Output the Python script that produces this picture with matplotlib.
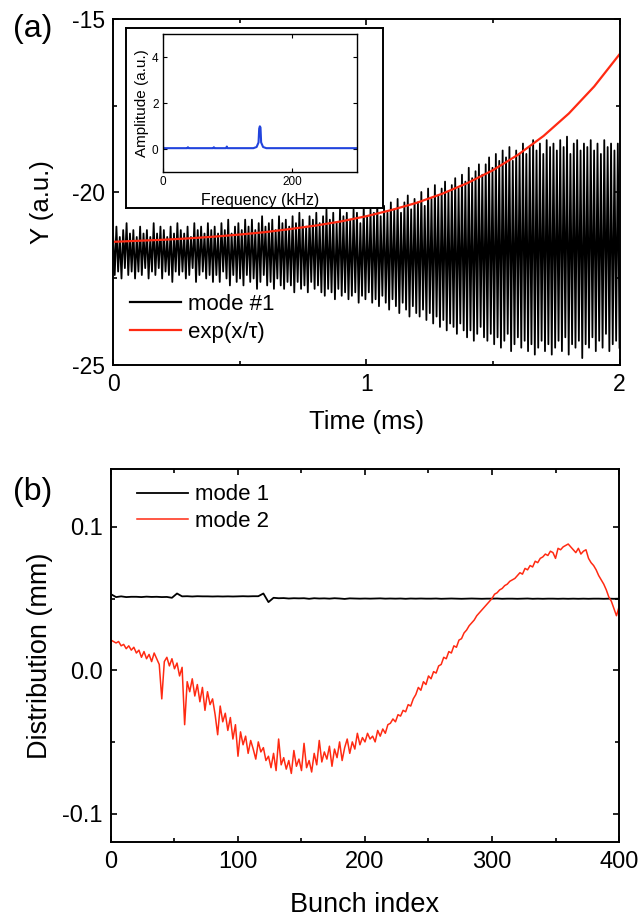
import numpy as np
import matplotlib
matplotlib.use("Agg")
import matplotlib.pyplot as plt
from matplotlib.ticker import MultipleLocator, FormatStrFormatter

plt.rcParams['font.family'] = ['Liberation Sans', 'DejaVu Sans']
plt.rcParams['axes.unicode_minus'] = False

# ---------------- data: panel (a) ----------------
# upper and lower turning points of the mode #1 oscillation (a.u.)
mode1_upper = [
    -21.2, -21.0, -21.3, -21.1, -20.9, -21.2, -21.1, -21.3, -21.0, -21.2,
    -21.1, -21.3, -20.9, -21.2, -21.0, -21.1, -21.3, -21.0, -21.2, -20.9,
    -21.1, -21.2, -21.0, -21.3, -20.9, -21.1, -21.0, -21.2, -20.9, -21.1,
    -21.0, -21.2, -20.9, -21.1, -20.8, -21.2, -21.0, -20.9, -21.1, -20.8,
    -21.0, -20.8, -21.1, -20.9, -20.7, -21.0, -20.9, -20.8, -21.1, -20.7,
    -20.9, -20.8, -21.0, -20.7, -20.9, -20.6, -20.8, -21.0, -20.7, -20.8,
    -20.6, -20.9, -20.7, -20.5, -20.8, -20.6, -20.9, -20.5, -20.7, -20.6,
    -20.8, -20.5, -20.6, -20.9, -20.4, -20.7, -20.5, -20.6, -20.3, -20.7,
    -20.4, -20.6, -20.3, -20.5, -20.2, -20.6, -20.3, -20.1, -20.5, -20.2,
    -20.3, -20.0, -20.4, -19.9, -20.2, -19.8, -20.1, -19.9, -19.7, -20.0,
    -19.8, -19.6, -19.9, -19.5, -19.7, -19.3, -19.6, -19.4, -19.2, -19.5,
    -19.2, -19.0, -19.3, -18.9, -19.1, -18.8, -19.0, -18.7, -19.1, -18.8,
    -18.9, -18.6, -18.9, -18.7, -18.5, -18.8, -18.6, -18.9, -18.5, -18.7,
    -18.6, -18.8, -18.5, -18.7, -18.4, -18.9, -18.6, -18.5, -18.8, -18.6,
    -18.7, -18.5, -18.8, -18.6, -18.9, -18.5, -18.7, -18.6, -18.8, -18.6,
]
mode1_lower = [
    -22.4, -22.3, -22.5, -22.2, -22.4, -22.3, -22.5, -22.3, -22.4, -22.2,
    -22.5, -22.3, -22.4, -22.2, -22.5, -22.3, -22.4, -22.6, -22.3, -22.4,
    -22.3, -22.5, -22.4, -22.2, -22.6, -22.4, -22.3, -22.5, -22.4, -22.6,
    -22.4, -22.6, -22.3, -22.5, -22.7, -22.4, -22.6, -22.5, -22.7, -22.4,
    -22.6, -22.5, -22.8, -22.6, -22.4, -22.7, -22.6, -22.8, -22.5, -22.7,
    -22.8, -22.6, -22.7, -22.9, -22.6, -22.8, -22.7, -22.9, -22.6, -22.8,
    -22.7, -22.9, -23.0, -22.8, -22.9, -23.1, -22.8, -23.0, -22.9, -23.1,
    -23.0, -22.9, -23.2, -23.0, -23.1, -22.9, -23.2, -23.1, -23.3, -23.0,
    -23.2, -23.4, -23.1, -23.3, -23.5, -23.2, -23.4, -23.6, -23.3, -23.5,
    -23.6, -23.4, -23.7, -23.5, -23.8, -23.6, -23.9, -23.7, -24.0, -23.8,
    -23.9, -24.1, -23.8, -24.0, -24.2, -24.0, -24.3, -24.1, -23.9, -24.2,
    -24.3, -24.1, -24.4, -24.2, -24.5, -24.3, -24.1, -24.6, -24.4, -24.2,
    -24.5, -24.3, -24.6, -24.4, -24.7, -24.5, -24.3, -24.6, -24.4, -24.7,
    -24.5, -24.3, -24.6, -24.2, -24.7, -24.4, -24.5, -24.3, -24.8, -24.4,
    -24.5, -24.2, -24.6, -24.3, -24.5, -24.1, -24.6, -24.4, -24.3, -24.5,
]
fit_time = [0.0, 0.1, 0.2, 0.3, 0.4, 0.5, 0.6, 0.7, 0.8, 0.9, 1.0,
            1.1, 1.2, 1.3, 1.4, 1.5, 1.6, 1.7, 1.8, 1.9, 2.0]
fit_values = [-21.44, -21.41, -21.38, -21.34, -21.29, -21.23, -21.16, -21.07,
              -20.97, -20.85, -20.70, -20.52, -20.31, -20.05, -19.74, -19.37,
              -18.92, -18.38, -17.73, -16.95, -16.02]

# inset spectrum
spec_freq = [0, 0.5, 2, 38, 39, 40, 78, 79, 80, 98, 99, 100, 140, 145, 148,
             149, 150, 151, 152, 155, 160, 300]
spec_amp = [5.3, 0.1, 0.05, 0.05, 0.09, 0.05, 0.05, 0.09, 0.05, 0.05, 0.12,
            0.05, 0.05, 0.1, 0.3, 0.9, 1.0, 0.95, 0.3, 0.1, 0.05, 0.05]

# ---------------- data: panel (b) ----------------
mode2_values = [
    0.021, 0.020, 0.019, 0.020, 0.017, 0.018, 0.015, 0.017, 0.014, 0.016,
    0.012, 0.014, 0.009, 0.013, 0.008, 0.011, 0.006, 0.012, 0.008, 0.004,
    -0.020, 0.006, 0.009, 0.003, 0.008, 0.001, 0.005, -0.004, 0.002, -0.038,
    -0.008, -0.015, -0.006, -0.018, -0.010, -0.022, -0.012, -0.028, -0.015, -0.024,
    -0.020, -0.031, -0.045, -0.025, -0.036, -0.030, -0.042, -0.033, -0.048, -0.038,
    -0.060, -0.043, -0.052, -0.046, -0.058, -0.049, -0.055, -0.062, -0.050, -0.057,
    -0.054, -0.063, -0.060, -0.068, -0.058, -0.070, -0.048, -0.066, -0.061, -0.069,
    -0.063, -0.072, -0.056, -0.067, -0.062, -0.070, -0.051, -0.068, -0.063, -0.071,
    -0.058, -0.066, -0.049, -0.064, -0.057, -0.062, -0.053, -0.067, -0.055, -0.061,
    -0.050, -0.063, -0.054, -0.048, -0.058, -0.050, -0.055, -0.044, -0.052, -0.047,
    -0.050, -0.044, -0.048, -0.046, -0.050, -0.042, -0.046, -0.041, -0.044, -0.038,
    -0.037, -0.034, -0.036, -0.031, -0.032, -0.028, -0.029, -0.024, -0.025, -0.020,
    -0.017, -0.012, -0.014, -0.008, -0.010, -0.004, -0.006, -0.001, -0.002, 0.003,
    0.004, 0.009, 0.008, 0.013, 0.012, 0.017, 0.016, 0.021, 0.022, 0.026,
    0.028, 0.031, 0.033, 0.035, 0.038, 0.040, 0.042, 0.044, 0.046, 0.048,
    0.050, 0.053, 0.054, 0.056, 0.057, 0.059, 0.060, 0.062, 0.063, 0.064,
    0.066, 0.068, 0.067, 0.071, 0.070, 0.073, 0.072, 0.076, 0.075, 0.078,
    0.079, 0.081, 0.080, 0.083, 0.082, 0.078, 0.085, 0.084, 0.086, 0.087,
    0.088, 0.086, 0.084, 0.082, 0.085, 0.081, 0.083, 0.084, 0.078, 0.075,
    0.073, 0.070, 0.066, 0.063, 0.060, 0.056, 0.051, 0.048, 0.043, 0.038,
    0.044,
]
mode1b_values = [
    0.0530, 0.0510, 0.0515, 0.0510, 0.0512, 0.0512, 0.0510, 0.0513, 0.0511, 0.0512,
    0.0510, 0.0511, 0.0505, 0.0535, 0.0515, 0.0516, 0.0514, 0.0516, 0.0515, 0.0515,
    0.0514, 0.0515, 0.0514, 0.0515, 0.0514, 0.0515, 0.0516, 0.0515, 0.0516, 0.0516,
    0.0535, 0.0475, 0.0505, 0.0502, 0.0503, 0.0500, 0.0502, 0.0501, 0.0502, 0.0498,
    0.0502, 0.0500, 0.0501, 0.0499, 0.0502, 0.0500, 0.0497, 0.0501, 0.0500, 0.0499,
    0.0500, 0.0499, 0.0500, 0.0501, 0.0499, 0.0500, 0.0499, 0.0500, 0.0498, 0.0500,
    0.0499, 0.0500, 0.0499, 0.0499, 0.0500, 0.0498, 0.0499, 0.0500, 0.0499, 0.0498,
    0.0499, 0.0500, 0.0499, 0.0498, 0.0499, 0.0499, 0.0500, 0.0498, 0.0499, 0.0499,
    0.0498, 0.0499, 0.0500, 0.0498, 0.0499, 0.0498, 0.0499, 0.0499, 0.0498, 0.0499,
    0.0498, 0.0499, 0.0498, 0.0499, 0.0498, 0.0499, 0.0499, 0.0498, 0.0499, 0.0498,
    0.0499,
]

# ---------------- figure ----------------
fig = plt.figure(figsize=(6.4, 9.18), dpi=100)

RED = '#ff2a12'
BLUE = '#2244dd'


def style_axes(ax, lw=1.4, maj=4.5, mnr=2.6, size=16.5):
    for s in ax.spines.values():
        s.set_linewidth(lw)
    ax.tick_params(which='both', direction='in', top=True, right=True,
                   width=1.2, labelsize=size, pad=6)
    ax.tick_params(which='major', length=maj)
    ax.tick_params(which='minor', length=mnr)


# ---- panel (a)
axa = fig.add_axes([0.1766, 0.6024, 0.7914, 0.3769])
signal = np.empty(len(mode1_upper) * 2)
signal[0::2] = mode1_upper
signal[1::2] = mode1_lower
t = np.linspace(0, 2, signal.size)
axa.plot(t, signal, color='black', lw=1.3, label='mode #1')
axa.plot(fit_time, fit_values, color=RED, lw=1.6, label='exp(x/\u03c4)')
axa.set_xlim(0, 2)
axa.set_ylim(-25, -15)
axa.xaxis.set_major_locator(MultipleLocator(1))
axa.xaxis.set_minor_locator(MultipleLocator(0.5))
axa.yaxis.set_major_locator(MultipleLocator(5))
axa.yaxis.set_minor_locator(MultipleLocator(2.5))
axa.xaxis.set_major_formatter(FormatStrFormatter('%d'))
axa.yaxis.set_major_formatter(FormatStrFormatter('%d'))
style_axes(axa)
axa.set_xlabel('Time (ms)', fontsize=18.5, va='center')
axa.xaxis.set_label_coords(0.5, -0.165)
axa.set_ylabel('Y (a.u.)', fontsize=18.5, va='center')
axa.yaxis.set_label_coords(-0.14, 0.47)
leg_a = axa.legend(loc='upper left', bbox_to_anchor=(0.034, 0.205), frameon=False,
                   fontsize=16, handlelength=2.3, handletextpad=0.3,
                   labelspacing=0.3, borderpad=0, borderaxespad=0)
for h in leg_a.legend_handles:
    h.set_linewidth(1.6)
fig.text(33 / 640, 1 - 29 / 918, '(a)', fontsize=23, ha='center', va='center')

# inset frame
frame = fig.add_axes([0.1969, 0.7737, 0.402, 0.1961])
frame.set_xticks([])
frame.set_yticks([])
for s in frame.spines.values():
    s.set_linewidth(1.4)

# inset
axi = fig.add_axes([0.2542, 0.8123, 0.3036, 0.1503])
axi.plot(spec_freq, spec_amp, color=BLUE, lw=1.5)
axi.set_xlim(0, 300)
axi.set_ylim(-1, 5)
axi.set_xticks([0, 200])
axi.xaxis.set_minor_locator(MultipleLocator(100))
axi.set_yticks([0, 2, 4])
for s in axi.spines.values():
    s.set_linewidth(1.0)
axi.tick_params(which='both', direction='in', top=True, right=True,
                width=0.8, labelsize=8.5, pad=3)
axi.tick_params(which='major', length=3)
axi.tick_params(which='minor', length=0)
axi.set_xlabel('Frequency (kHz)', fontsize=11.5, labelpad=3)
axi.set_ylabel('Amplitude (a.u.)', fontsize=11, labelpad=2)

# ---- panel (b)
axb = fig.add_axes([0.1734, 0.0825, 0.7938, 0.4061])
idx2 = np.arange(0, 401, 2)
idx4 = np.arange(0, 401, 4)
axb.plot(idx4, mode1b_values, color='black', lw=1.3, label='mode 1')
axb.plot(idx2, mode2_values, color=RED, lw=1.1, label='mode 2')
axb.set_xlim(0, 400)
axb.set_ylim(-0.12, 0.14)
axb.xaxis.set_major_locator(MultipleLocator(100))
axb.xaxis.set_minor_locator(MultipleLocator(50))
axb.yaxis.set_major_locator(MultipleLocator(0.1))
axb.yaxis.set_minor_locator(MultipleLocator(0.05))
axb.yaxis.set_major_formatter(FormatStrFormatter('%.1f'))
style_axes(axb, size=17)
axb.set_xlabel('Bunch index', fontsize=19.5, va='center')
axb.xaxis.set_label_coords(0.5, -0.168)
axb.set_ylabel('Distribution (mm)', fontsize=19.5, va='center')
axb.yaxis.set_label_coords(-0.14, 0.5)
axb.legend(loc='upper left', bbox_to_anchor=(0.051, 0.96), frameon=False,
           fontsize=16, handlelength=2.3, handletextpad=0.3,
           labelspacing=0.25, borderpad=0, borderaxespad=0)
fig.text(33 / 640, 1 - 492 / 918, '(b)', fontsize=23, ha='center', va='center')

fig.savefig('out.png', dpi=100)
